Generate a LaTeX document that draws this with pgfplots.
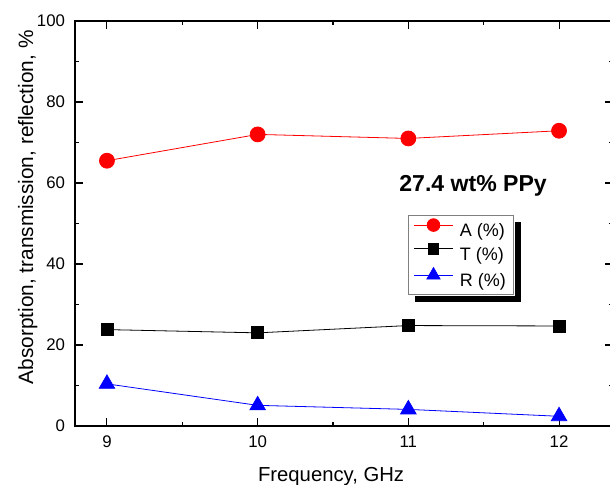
\documentclass[border=0pt]{standalone}
\usepackage{pgfplots}
\pgfplotsset{compat=1.18}
\usepackage{fontspec}
\setmainfont{Liberation Sans}

\newcommand{\legfont}{\fontsize{13.5}{16}\selectfont}

\begin{document}
\begin{tikzpicture}
\begin{axis}[
  scale only axis,
  width=403.5pt, height=303.75pt,
  xmin=8.788, xmax=12.358,
  ymin=0, ymax=100,
  xtick={9,10,11,12},
  ytick={0,20,40,60,80,100},
  minor x tick num=1,
  minor y tick num=1,
  major tick length=6pt,
  minor tick length=3pt,
  axis line style={line width=1.1pt},
  every tick/.style={black, line width=0.8pt},
  tick label style={font=\fontsize{12.6}{14}\selectfont},
  /pgf/number format/assume math mode=true,
  xticklabel style={yshift=-4pt},
  yticklabel style={xshift=-4pt},
  xlabel={Frequency, GHz},
  ylabel={Absorption, transmission, reflection, \%},
  every axis x label/.style={at={(axis description cs:0.476,-0.138)}, anchor=base,
    font=\fontsize{15.2}{18}\selectfont},
  every axis y label/.style={at={(axis description cs:-0.078,0.54)}, rotate=90, anchor=base,
    font=\fontsize{15.6}{18}\selectfont},
  legend style={name=leg, at={(axis description cs:0.619,0.521)}, anchor=north west,
    draw=gray, line width=0.6pt, fill=white,
    row sep=1.8pt, column sep=3pt, inner xsep=4pt, inner ysep=2.5pt},
  legend cell align=left,
  legend image code/.code={
    \draw (0pt,4.6pt) -- (29pt,4.6pt);
    \draw[mark options={scale=0.85}] plot coordinates {(14.5pt,4.6pt)};
  },
]
% absorption
\addplot[red, line width=0.6pt, mark=*, mark size=5.6pt, mark options={solid, fill=red, draw=red}]
  coordinates {(9,65.5) (10,72.0) (11,71.0) (12,72.9)};
\addlegendentry{\legfont A (\%)}
% transmission
\addplot[black, line width=0.6pt, mark=square*, mark size=4.5pt, mark options={solid, fill=black}]
  coordinates {(9,23.8) (10,23.0) (11,24.8) (12,24.7)};
\addlegendentry{\legfont T (\%)}
% reflection
\addplot[blue, line width=0.6pt, mark=triangle*, mark size=6.7pt, mark options={solid, fill=blue, draw=blue}]
  coordinates {(9,10.4) (10,5.1) (11,4.1) (12,2.4)};
\addlegendentry{\legfont R (\%)}

\node[anchor=base, font=\bfseries\fontsize{17.3}{20}\selectfont]
  at (axis description cs:0.740,0.578) {27.4 wt\% PPy};
\end{axis}
% solid offset shadow along the right and bottom of the legend box
\fill[black] ([shift={(0.3pt,-5.25pt)}]leg.north east) rectangle ([shift={(5.25pt,-5.25pt)}]leg.south east);
\fill[black] ([shift={(5.25pt,-0.3pt)}]leg.south west) rectangle ([shift={(5.25pt,-5.25pt)}]leg.south east);
\pgfresetboundingbox
\path[use as bounding box] ([shift={(-56.25pt,-44.25pt)}]current axis.south west)
  rectangle ([shift={(401.25pt,319.5pt)}]current axis.south west);
\end{tikzpicture}
\end{document}
